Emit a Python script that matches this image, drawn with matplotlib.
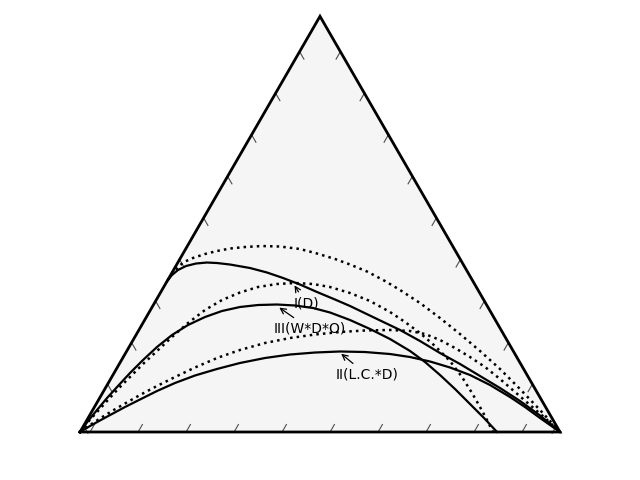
import numpy as np
import matplotlib
matplotlib.use("Agg")
import matplotlib.pyplot as plt

# ternary compositions: right-vertex share (r) and top-vertex share (t)
I_sol_r = [0.0, 0.0028, 0.0093, 0.0212, 0.0390, 0.0607, 0.0822, 0.1111, 0.1569, 0.1977,
           0.2377, 0.2809, 0.3253, 0.3719, 0.4110, 0.4775, 0.5440, 0.5989, 0.6550, 0.7099,
           0.7660, 0.8221, 0.8794, 0.9385, 1.0]
I_sol_t = [0.3632, 0.3777, 0.3897, 0.3993, 0.4053, 0.4077, 0.4065, 0.4029, 0.3945, 0.3837,
           0.3705, 0.3548, 0.3368, 0.3187, 0.3031, 0.2742, 0.2454, 0.2189, 0.1900, 0.1636,
           0.1347, 0.1058, 0.0746, 0.0397, 0.0]

I_dot_r = [0.0, 0.0034, 0.0057, 0.0122, 0.0261, 0.0463, 0.0677, 0.0918, 0.1213, 0.1555,
           0.1936, 0.2382, 0.2791, 0.3232, 0.3611, 0.4049, 0.4538, 0.4959, 0.5532, 0.6129,
           0.6738, 0.7359, 0.7992, 0.8650, 0.9319, 1.0]
I_dot_t = [0.3656, 0.3849, 0.3969, 0.4090, 0.4186, 0.4282, 0.4354, 0.4414, 0.4450, 0.4474,
           0.4462, 0.4402, 0.4294, 0.4162, 0.4029, 0.3861, 0.3632, 0.3416, 0.3103, 0.2742,
           0.2357, 0.1949, 0.1516, 0.1034, 0.0529, 0.0]

III_sol_r = [0.0, 0.0034, 0.0090, 0.0154, 0.0238, 0.0332, 0.0447, 0.0582, 0.0750, 0.0963,
             0.1221, 0.1503, 0.1830, 0.2181, 0.2571, 0.2958, 0.3363, 0.3771, 0.4278, 0.4803,
             0.5340, 0.5901, 0.6346, 0.6815, 0.7296, 0.7788, 0.8248, 0.8688]
III_sol_t = [0.0, 0.0265, 0.0529, 0.0818, 0.1107, 0.1419, 0.1732, 0.2045, 0.2333, 0.2574,
             0.2766, 0.2911, 0.3007, 0.3055, 0.3067, 0.3043, 0.2983, 0.2875, 0.2694, 0.2478,
             0.2237, 0.1949, 0.1684, 0.1371, 0.1034, 0.0674, 0.0337, 0.0]

III_dot_r = [0.0, 0.0046, 0.0114, 0.0190, 0.0275, 0.0380, 0.0495, 0.0630, 0.0774, 0.0939,
             0.1137, 0.1371, 0.1655, 0.1964, 0.2324, 0.2687, 0.3074, 0.3464, 0.3953, 0.4466,
             0.5015, 0.5448, 0.5892, 0.6361, 0.6854, 0.7297, 0.7698, 0.8033, 0.8335, 0.8604]
III_dot_t = [0.0, 0.0241, 0.0481, 0.0746, 0.1034, 0.1323, 0.1636, 0.1949, 0.2285, 0.2622,
             0.2935, 0.3175, 0.3356, 0.3488, 0.3560, 0.3584, 0.3560, 0.3488, 0.3344, 0.3151,
             0.2887, 0.2646, 0.2382, 0.2069, 0.1708, 0.1323, 0.0938, 0.0601, 0.0289, 0.0]

II_sol_r = [0.0, 0.0136, 0.0278, 0.0450, 0.0637, 0.0859, 0.1111, 0.1390, 0.1716, 0.2096,
            0.2503, 0.2964, 0.3443, 0.3940, 0.4448, 0.4976, 0.5520, 0.5973, 0.6444, 0.6932,
            0.7440, 0.7976, 0.8537, 0.8970, 0.9415, 1.0]
II_sol_t = [0.0, 0.0144, 0.0277, 0.0433, 0.0601, 0.0782, 0.0986, 0.1179, 0.1359, 0.1516,
            0.1660, 0.1780, 0.1864, 0.1912, 0.1937, 0.1924, 0.1876, 0.1804, 0.1696, 0.1552,
            0.1371, 0.1131, 0.0842, 0.0601, 0.0337, 0.0]

II_dot_r = [0.0, 0.0124, 0.0254, 0.0414, 0.0595, 0.0805, 0.1051, 0.1318, 0.1620, 0.1964,
            0.2347, 0.2784, 0.3245, 0.3723, 0.4214, 0.4717, 0.5231, 0.5660, 0.6009, 0.6394,
            0.6802, 0.7223, 0.7656, 0.8113, 0.8582, 0.9050, 0.9519, 1.0]
II_dot_t = [0.0, 0.0168, 0.0325, 0.0505, 0.0686, 0.0890, 0.1107, 0.1323, 0.1552, 0.1780,
            0.1973, 0.2141, 0.2261, 0.2345, 0.2406, 0.2442, 0.2454, 0.2430, 0.2357, 0.2213,
            0.2021, 0.1804, 0.1564, 0.1275, 0.0962, 0.0650, 0.0337, 0.0]

tick_steps = np.arange(10) / 10


def proj(r, t):
    r = np.asarray(r, dtype=float)
    t = np.asarray(t, dtype=float)
    return r + t / 2, t * np.sqrt(3) / 2


fig = plt.figure(figsize=(6.4, 4.8), dpi=100)
ax = fig.add_axes([0, 0, 1, 1])
ax.set_xlim(-1 / 6, 7 / 6)
ax.set_ylim(-0.1, 0.9)
ax.axis("off")

# triangle
cx, cy = proj([0, 1, 0, 0], [0, 0, 1, 0])
ax.fill(cx, cy, color="#f5f5f5", zorder=0)
ax.plot(cx, cy, color="k", lw=2, zorder=3, solid_joinstyle="miter")

# ticks
s3 = np.sqrt(3) / 2
L = 0.018
for k in tick_steps:
    # bottom
    x0, y0 = proj(k + 0.021, 0)
    ax.plot([x0, x0 + L / 2], [y0, y0 + L * s3], color="0.3", lw=0.8, zorder=2)
    # left
    x0, y0 = proj(0, k + 0.015)
    ax.plot([x0, x0 + L / 2], [y0, y0 - L * s3], color="0.3", lw=0.8, zorder=2)
    # right
    x0, y0 = proj(1 - (k + 0.015), k + 0.015)
    ax.plot([x0, x0 - L / 2], [y0, y0 - L * s3], color="0.3", lw=0.8, zorder=2)

# curves
for r, t in [(I_sol_r, I_sol_t), (III_sol_r, III_sol_t), (II_sol_r, II_sol_t)]:
    x, y = proj(r, t)
    ax.plot(x, y, color="k", lw=1.6, zorder=4)
for r, t in [(I_dot_r, I_dot_t), (III_dot_r, III_dot_t), (II_dot_r, II_dot_t)]:
    x, y = proj(r, t)
    ax.plot(x, y, color="k", lw=1.8, ls=":", zorder=4)

arrow = dict(arrowstyle="->", color="k", lw=0.9)
ax.annotate("I(D)", xy=(0.4438, 0.3104), xytext=(0.4708, 0.2667),
            ha="center", va="center", fontsize=10, arrowprops=arrow, zorder=5)
ax.annotate("III(W*D*O)", xy=(0.4104, 0.2625), xytext=(0.4792, 0.2146),
            ha="center", va="center", fontsize=10, arrowprops=arrow, zorder=5)
ax.annotate("II(L.C.*D)", xy=(0.5396, 0.1667), xytext=(0.5979, 0.1188),
            ha="center", va="center", fontsize=10, arrowprops=arrow, zorder=5)

fig.savefig("out.png", dpi=100)
